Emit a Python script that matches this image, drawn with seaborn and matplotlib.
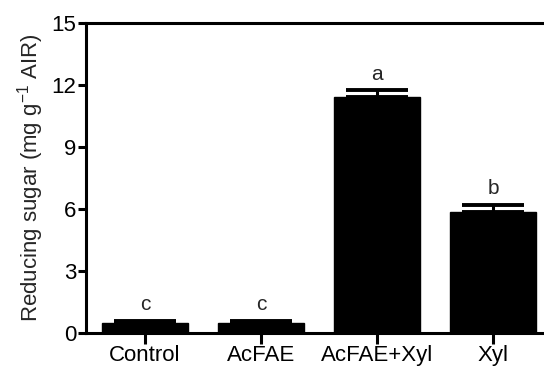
import numpy as np
import pandas as pd
import seaborn as sns
import matplotlib.pyplot as plt

# treatments, means and SE
groups = ['Control', 'AcFAE', 'AcFAE+Xyl', 'Xyl']
sugar = [0.48, 0.48, 11.42, 5.83]
sem = [0.10, 0.10, 0.36, 0.38]
letters = ['c', 'c', 'a', 'b']

sns.set_style('ticks')
plt.rcParams['font.family'] = ['Liberation Sans', 'DejaVu Sans']
plt.rcParams['mathtext.fontset'] = 'custom'
plt.rcParams['mathtext.rm'] = 'Liberation Sans'

df = pd.DataFrame({'group': groups, 'sugar': sugar})

fig = plt.figure(figsize=(5.44, 3.67), dpi=100)
ax = fig.add_axes([0.158, 0.094, 0.842, 0.842])

sns.barplot(data=df, x='group', y='sugar', color='black', width=0.74,
            saturation=1, errorbar=None, ax=ax)
for p in ax.patches:
    p.set_edgecolor('black')

x = np.arange(len(groups))
ax.errorbar(x, sugar, yerr=[np.zeros(len(sem)), sem], fmt='none',
            ecolor='black', elinewidth=2.2, capsize=22, capthick=2.8)

for xi, m, e, lab in zip(x, sugar, sem, letters):
    ax.text(xi, m + e + 0.3, lab, ha='center', va='bottom', fontsize=15)

ax.set_ylim(0, 15)
ax.set_yticks([0, 3, 6, 9, 12, 15])
ax.set_xlim(-0.509, 3.44)
ax.set_xlabel('')
ax.set_ylabel('Reducing sugar (mg g$^{\\mathregular{-1}}$ AIR)', fontsize=16, labelpad=4)

for side in ['left', 'bottom', 'top']:
    ax.spines[side].set_linewidth(2.2)
    ax.spines[side].set_color('black')
ax.spines['right'].set_visible(False)

ax.tick_params(axis='y', labelsize=16, length=6, width=2.2, pad=1, colors='black')
ax.tick_params(axis='x', labelsize=16, length=8, width=2.2, pad=1, colors='black')

fig.savefig('out.png', dpi=100)
